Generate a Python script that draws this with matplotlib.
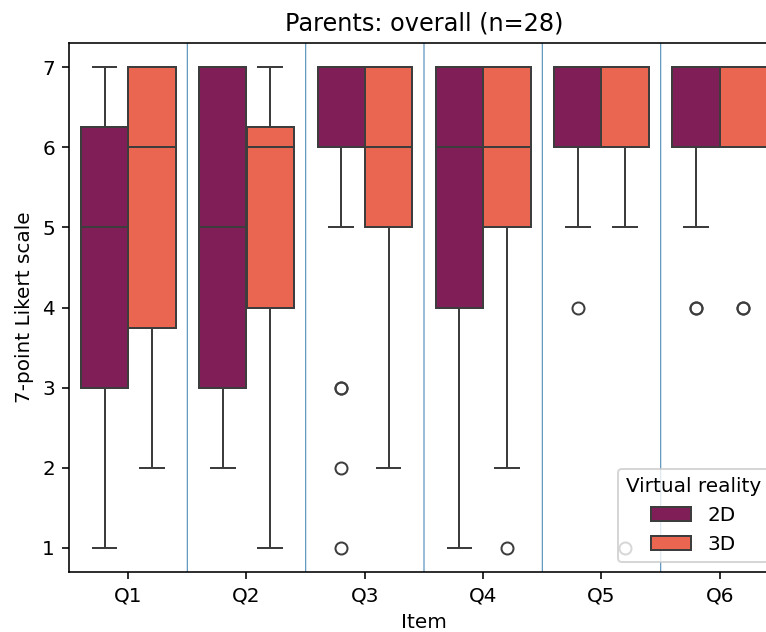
import numpy as np
import pandas as pd
import matplotlib
matplotlib.use("Agg")
import matplotlib.pyplot as plt
import seaborn as sns

items = ["Q1", "Q2", "Q3", "Q4", "Q5", "Q6"]
conditions = ["2D", "3D"]
likert_values = [1, 2, 3, 4, 5, 6, 7]

# Response counts per Likert value (1..7), n=28 per item and condition
counts_2d = {
    "Q1": [1, 2, 5, 4, 5, 4, 7],
    "Q2": [0, 3, 5, 4, 4, 4, 8],
    "Q3": [1, 1, 2, 0, 2, 7, 15],
    "Q4": [1, 2, 2, 5, 3, 7, 8],
    "Q5": [0, 0, 0, 1, 2, 10, 15],
    "Q6": [0, 0, 0, 2, 2, 9, 15],
}
counts_3d = {
    "Q1": [0, 3, 4, 3, 3, 7, 8],
    "Q2": [1, 2, 2, 5, 3, 8, 7],
    "Q3": [0, 2, 1, 2, 5, 10, 8],
    "Q4": [1, 1, 2, 2, 4, 10, 8],
    "Q5": [1, 0, 0, 0, 2, 10, 15],
    "Q6": [0, 0, 0, 2, 0, 11, 15],
}

rows = []
for cond, table in zip(conditions, [counts_2d, counts_3d]):
    for item in items:
        vals = np.repeat(likert_values, table[item])
        for v in vals:
            rows.append({"Item": item, "Virtual reality": cond, "Score": v})
df = pd.DataFrame(rows)

colors = ["#801f57", "#eb6650"]

dpi = 144
fig = plt.figure(figsize=(766 / dpi, 632 / dpi), dpi=dpi)
ax = fig.add_axes([69 / 766, 60 / 632, 710 / 766, 529 / 632])

sns.boxplot(data=df, x="Item", y="Score", hue="Virtual reality",
            order=items, hue_order=conditions, palette=colors,
            saturation=1, linecolor="#3d3d3d", ax=ax)

for xpos in np.arange(0.5, len(items) - 0.5, 1.0):
    ax.axvline(xpos, color="#5b93bd", lw=0.6, zorder=0, snap=False)

ax.set_title("Parents: overall (n=28)")
ax.set_xlabel("Item")
ax.set_ylabel("7-point Likert scale")
ax.set_ylim(0.7, 7.3)
ax.legend(title="Virtual reality", loc="lower right")

fig.savefig("out.png", dpi=dpi)
